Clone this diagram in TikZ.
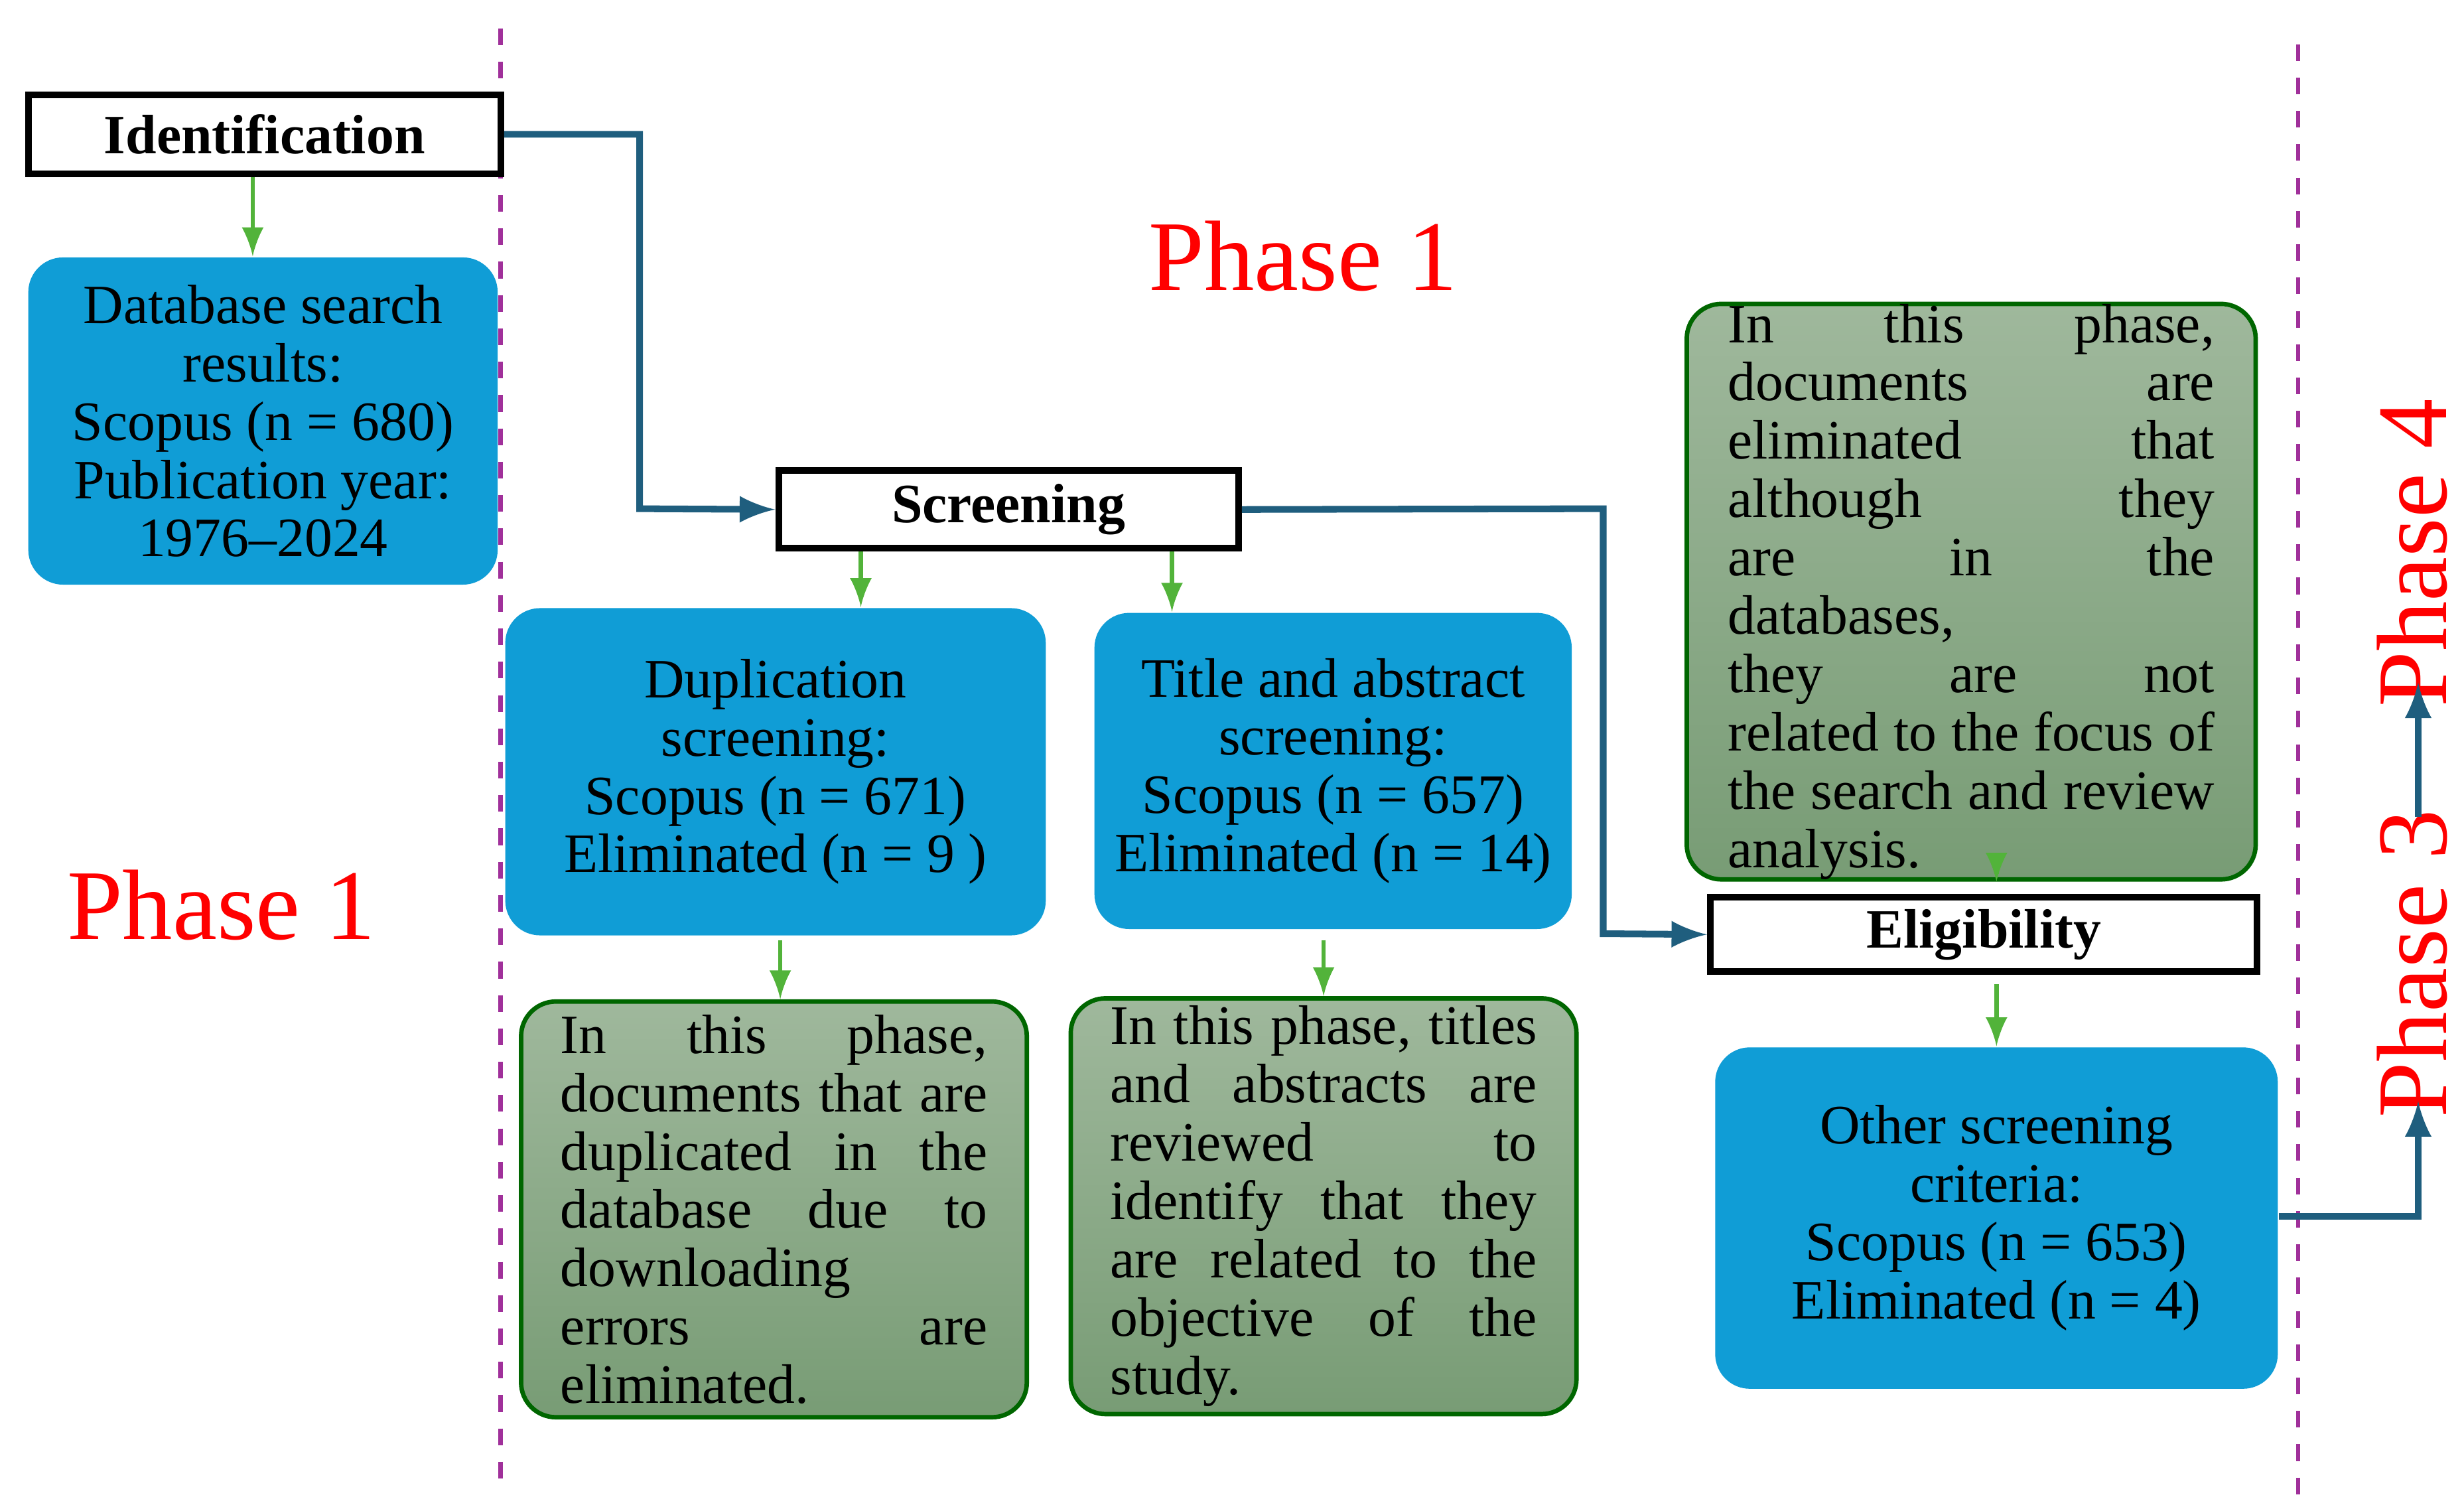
\documentclass[tikz,border=0pt]{standalone}
\usepackage{fontspec}
\setmainfont{Liberation Serif}
\begin{document}
\begin{tikzpicture}[x=0.01cm,y=-0.01cm,
  lab/.style={draw=black,line width=1.2pt,fill=white,font=\fontsize{10}{12}\selectfont\bfseries,inner sep=0pt},
  blue/.style={fill=blue0,draw=none,rounded corners=0.22cm,align=center,font=\fontsize{10}{10.5}\selectfont,inner sep=0pt},
  grn/.style={draw=green!40!black,line width=0.8pt,rounded corners=0.22cm,top color=grnT,bottom color=grnB,align=justify,font=\fontsize{10}{10.5}\selectfont,inner sep=0pt},
  garr/.style={draw=arrG,line width=0.8pt,-latex},
  barr/.style={draw=lineB,line width=1.2pt,-latex},
  ph/.style={text=red,font=\fontsize{18}{18}\selectfont}]
\definecolor{blue0}{HTML}{109DD6}
\definecolor{grnT}{HTML}{9FB89C}
\definecolor{grnB}{HTML}{789C75}
\definecolor{arrG}{HTML}{52B33A}
\definecolor{lineB}{HTML}{1F5E7E}
\definecolor{mag}{HTML}{A0309A}
\useasboundingbox (0,0) rectangle (1560,955);
\draw[mag,dashed,line width=0.8pt] (317,18) -- (317,940);
\draw[mag,dashed,line width=0.8pt] (1455,28) -- (1455,948);
\node[lab,minimum width=2.99cm,minimum height=0.5cm] (id) at (167.5,85) {Identification};
\node[blue,minimum width=2.97cm,minimum height=2.07cm] (db) at (166.5,266.5) {Database search\\results:\\Scopus (n = 680)\\Publication year:\\1976--2024};
\draw[garr] (id.south -| 160,0) -- (db.north -| 160,0);
\node[ph] (p1a) at (825,162) {Phase 1};
\node[ph] (p1b) at (140,573) {Phase 1};
\node[lab,minimum width=2.91cm,minimum height=0.49cm] (sc) at (638.5,322.5) {Screening};
\draw[barr] (id.east) -- (405,85) -- (405,322) -- (sc.west);
\node[blue,minimum width=3.42cm,minimum height=2.07cm] (dup) at (491,488.5) {Duplication\\screening:\\Scopus (n = 671)\\Eliminated (n = 9 )};
\node[blue,minimum width=3.02cm,minimum height=2.0cm] (tit) at (844,488) {Title and abstract\\screening:\\Scopus (n = 657)\\Eliminated (n = 14)};
\draw[garr] (sc.south -| 545,0) -- (dup.north -| 545,0);
\draw[garr] (sc.south -| 742,0) -- (tit.north -| 742,0);
\node[grn,minimum width=3.2cm,minimum height=2.63cm,text width=2.7cm] (g1) at (490,765.5) {In this phase,\linebreak documents that are\linebreak duplicated in the\linebreak database due to\linebreak downloading\\errors are\linebreak eliminated.};
\node[grn,minimum width=3.2cm,minimum height=2.63cm,text width=2.7cm] (g2) at (838,763.5) {In this phase, titles\linebreak and abstracts are\linebreak reviewed to\linebreak identify that they\linebreak are related to the\linebreak objective of the\linebreak study.};
\draw[garr] (494,595) -- (g1.north -| 494,0);
\draw[garr] (838,595) -- (g2.north -| 838,0);
\node[lab,minimum width=3.46cm,minimum height=0.47cm] (el) at (1256,591.5) {Eligibility};
\draw[barr] (sc.east) -- (1015,322) -- (1015,591) -- (el.west);
\node[grn,minimum width=3.6cm,minimum height=2.85cm,text width=3.08cm] (g3) at (1248,374.5) {In this phase,\linebreak documents are\linebreak eliminated that\linebreak although they are in the\linebreak databases, they are not\linebreak related to the focus of\linebreak the search and review\linebreak analysis.};
\node[blue,minimum width=3.56cm,minimum height=2.16cm] (oth) at (1264,771) {Other screening\\criteria:\\Scopus (n = 653)\\Eliminated (n = 4)};
\draw[garr] (1264,553) -- (g3.south -| 1264,0);
\draw[garr] (1264,623) -- (oth.north -| 1264,0);
\node[ph,rotate=90] (p3) at (1527,610) {Phase 3};
\node[ph,rotate=90] (p4) at (1527,350) {Phase 4};
\draw[barr] (oth.east |- 0,770) -- (1531,770) -- (1531,697);
\draw[barr] (1531,517) -- (1531,432);
\end{tikzpicture}
\end{document}
